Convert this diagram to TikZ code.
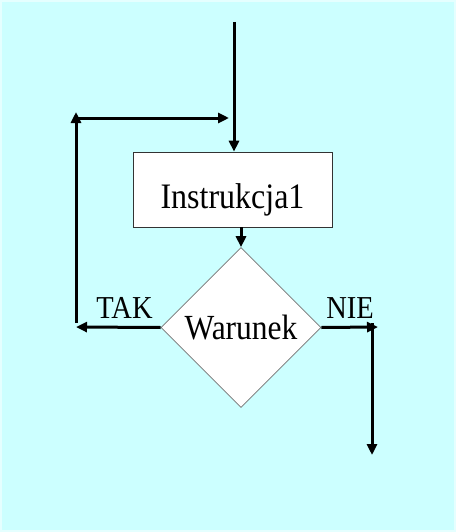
\documentclass[tikz,border=0pt]{standalone}
\usepackage{fontspec}
\setmainfont{Liberation Serif}
\usetikzlibrary{shapes.geometric,arrows.meta}
\definecolor{tlo}{HTML}{CCFFFF}

\newcommand{\wys}[1]{\scalebox{1}[1.12]{#1}}

\begin{document}
\begin{tikzpicture}[x=1pt,y=-1pt,
    strz/.style={line width=3pt,-{Triangle[length=11pt,width=10pt]}},
    blok/.style={draw=black!80,fill=white,line width=0.6pt,minimum width=199pt,minimum height=75pt,inner sep=0pt,text height=23pt,text depth=0pt,font=\fontsize{32}{36}\selectfont},
    romb/.style={diamond,draw=black!55,fill=white,line width=0.6pt,minimum width=160pt,minimum height=160pt,inner sep=0pt,text height=23pt,text depth=0pt,font=\fontsize{31.5}{36}\selectfont},
    etyk/.style={font=\fontsize{28.5}{32}\selectfont,inner sep=0pt,anchor=base}]
            \fill[tlo] (0,0) rectangle (456,532);
            \draw[tlo!50!white,line width=1.5pt] (1,1) rectangle (455,531);
            \useasboundingbox (0,0) rectangle (456,532);
            \node[blok] at (232.5,189.5) (instr) {\raisebox{-7pt}{\wys{Instrukcja1}}};
            \node[romb] at (241,327.5) (war) {\wys{Warunek}};
            \coordinate (start) at (234,22);
            \coordinate (lewy) at (76,327);
            \coordinate (lewyd) at (76,323);
            \coordinate (lewyg) at (76,112);
            \coordinate (gora) at (76,118);
            \coordinate (gorak) at (229,118);
            \coordinate (prawy) at (378,327);
            \coordinate (prawyg) at (372,323);
            \coordinate (koniec) at (372,455);
            \node[etyk] at (124.5,318) (tak) {\wys{TAK}};
            \node[etyk] at (350,318) (nie) {\wys{NIE}};
            \draw[strz] (start) -- (instr.north -| start);
            \draw[strz] (instr.south -| war.north) -- (war.north);
            \draw[strz] (war.west) -- (lewy);
            \draw[strz] (lewyd) -- (lewyg);
            \draw[strz] (gora) -- (gorak);
            \draw[strz] (war.east) -- (prawy);
            \draw[strz] (prawyg) -- (koniec);
          \end{tikzpicture}
\end{document}
